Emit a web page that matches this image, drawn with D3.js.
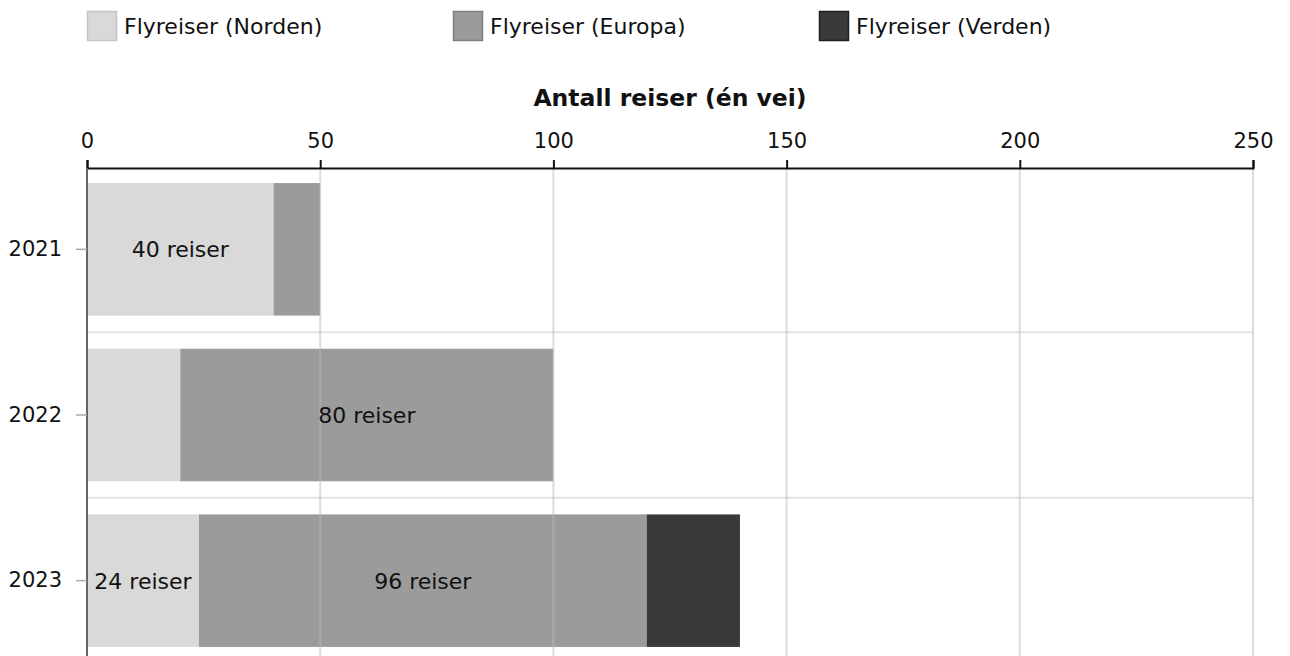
<!DOCTYPE html>
<html>
<head>
<meta charset="utf-8">
<script src="https://cdn.jsdelivr.net/npm/d3@7"></script>
<style>
  body { margin: 0; background: #fff; }
  text { font-family: "DejaVu Sans", Verdana, sans-serif; fill: #111; }
</style>
</head>
<body>
<div id="chart"></div>
<script>
// data
let years = ["2021", "2022", "2023"];
let seriesNames = ["Flyreiser (Norden)", "Flyreiser (Europa)", "Flyreiser (Verden)"];
let norden = [40, 20, 24];
let europa = [10, 80, 96];
let verden = [0, 0, 20];
let xTicks = [0, 50, 100, 150, 200, 250];
let colors = ["#d9d9d9", "#9b9b9b", "#3a3a3a"];
let swatchStroke = ["#c4c4c4", "#808080", "#1e1e1e"];

let dim = { width: 1290, height: 656, left: 87, right: 37, top: 168 };

let svg = d3.select("#chart").append("svg")
            .attr("width", dim.width)
            .attr("height", dim.height);

let rows = years.map((y, i) => ({ year: y, Norden: norden[i], Europa: europa[i], Verden: verden[i] }));
let stack = d3.stack().keys(["Norden", "Europa", "Verden"])(rows);

let x = d3.scaleLinear()
          .domain([0, 250])
          .range([dim.left, dim.width - dim.right]);

let y = d3.scaleBand()
          .domain(years)
          .range([166.5, 663.5])
          .paddingInner(0.2)
          .paddingOuter(0.1);

// legend
let legend = svg.append("g");
seriesNames.forEach((name, i) => {
    let lg = legend.append("g").attr("transform", `translate(${87 + i * 366}, 11)`);
    lg.append("rect")
      .attr("x", 0.5).attr("y", 0.5)
      .attr("width", 29).attr("height", 29)
      .attr("fill", colors[i])
      .attr("stroke", swatchStroke[i])
      .attr("stroke-width", 1.5);
    lg.append("text")
      .attr("x", 37).attr("y", 23)
      .attr("font-size", "22px")
      .text(name);
});

// axis title
svg.append("text")
   .attr("x", (x(0) + x(250)) / 2)
   .attr("y", 106)
   .attr("text-anchor", "middle")
   .attr("font-size", "23.5px")
   .attr("font-weight", "bold")
   .text("Antall reiser (én vei)");

// band separators
svg.append("g").selectAll("line")
   .data(years.slice(1))
   .join("line")
   .attr("x1", x(0)).attr("x2", x(250))
   .attr("y1", d => y(d) - y.step() * y.paddingInner() / 2)
   .attr("y2", d => y(d) - y.step() * y.paddingInner() / 2)
   .attr("stroke", "#e3e3e3")
   .attr("stroke-width", 2);

// bars
let layers = svg.append("g").selectAll("g")
   .data(stack)
   .join("g")
   .attr("fill", (d, i) => colors[i]);

layers.selectAll("rect")
   .data(d => d)
   .join("rect")
   .attr("x", d => x(d[0]))
   .attr("y", d => y(d.data.year))
   .attr("width", d => x(d[1]) - x(d[0]))
   .attr("height", y.bandwidth());

// grid lines over the bars, faint
svg.append("g").selectAll("line")
   .data(xTicks.slice(1))
   .join("line")
   .attr("x1", d => x(d)).attr("x2", d => x(d))
   .attr("y1", dim.top).attr("y2", dim.height)
   .attr("stroke", "#bbb")
   .attr("stroke-opacity", 0.5)
   .attr("stroke-width", 2);

// value labels, only where they fit
let labels = svg.append("g");
stack.forEach(layer => {
    layer.forEach(d => {
        let v = d[1] - d[0];
        if (v <= 0) return;
        let w = x(d[1]) - x(d[0]);
        let t = labels.append("text")
            .attr("x", (x(d[0]) + x(d[1])) / 2)
            .attr("y", y(d.data.year) + y.bandwidth() / 2 + 8)
            .attr("text-anchor", "middle")
            .attr("font-size", "22px")
            .text(v + " reiser");
        if (t.node().getComputedTextLength() + 8 > w) t.remove();
    });
});

// top axis
let axisX = svg.append("g")
    .attr("transform", `translate(0, ${dim.top})`)
    .call(d3.axisTop(x).tickValues(xTicks).tickSize(8).tickPadding(12));
axisX.select(".domain").attr("stroke", "#111").attr("stroke-width", 2);
axisX.selectAll(".tick line").attr("stroke", "#111").attr("stroke-width", 2);
axisX.selectAll("text").attr("font-size", "21px").attr("font-family", "DejaVu Sans").attr("fill", "#111");

// left axis
let axisY = svg.append("g")
    .attr("transform", `translate(${dim.left}, 0)`)
    .call(d3.axisLeft(y).tickSize(11).tickPadding(14).tickSizeOuter(0));
axisY.select(".domain").attr("stroke", "#666").attr("stroke-width", 2)
     .attr("d", `M0,${dim.top}V${dim.height}`);
axisY.selectAll(".tick line").attr("stroke", "#aaa").attr("stroke-width", 1.5);
axisY.selectAll("text").attr("font-size", "21px").attr("font-family", "DejaVu Sans").attr("fill", "#111");
</script>
</body>
</html>
